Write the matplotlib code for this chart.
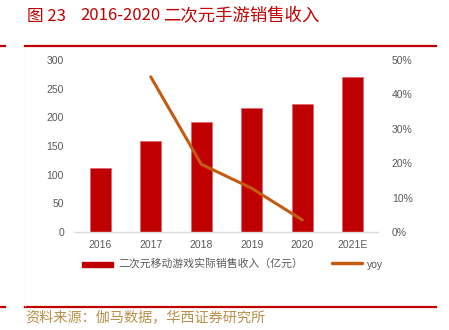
import matplotlib
matplotlib.use("Agg")
import matplotlib.pyplot as plt
from matplotlib.lines import Line2D
from matplotlib.patches import Rectangle
import numpy as np

plt.rcParams['font.family'] = ['Noto Sans CJK SC', 'DejaVu Sans']

years = ["2016", "2017", "2018", "2019", "2020", "2021E"]
revenue = [111, 159, 191, 217, 224, 271]
yoy_years = ["2017", "2018", "2019", "2020"]
yoy = [0.451, 0.197, 0.127, 0.035]

title_num = "图 23"
title_years = "2016-2020"
title_text = "二次元手游销售收入"
bar_label = "二次元移动游戏实际销售收入（亿元）"
line_label = "yoy"
source = "资料来源：伽马数据，华西证券研究所"

W, H = 449, 330
fig = plt.figure(figsize=(W / 100, H / 100), dpi=100)

red = "#C00000"
orange = "#C55A11"
gray = "#595959"
tickfont = ["Liberation Sans", "DejaVu Sans"]

ax = fig.add_axes([75 / W, 1 - 232 / H, (378 - 75) / W, (232 - 60) / H])
x = np.arange(len(years))
ax.bar(x, revenue, width=0.41, color=red, edgecolor="#E06070", linewidth=0.5, zorder=2)
ax.set_xlim(-0.5, len(years) - 0.5)
ax.set_ylim(0, 300)
ax.set_yticks(np.arange(0, 301, 50))
ax.set_xticks(x)
ax.set_xticklabels(years)
for s in ["top", "right", "left"]:
    ax.spines[s].set_visible(False)
ax.spines["bottom"].set_color("#D9D9D9")
ax.spines["bottom"].set_linewidth(1.0)
ax.tick_params(axis="both", length=0, labelsize=7.5, labelcolor=gray)
ax.tick_params(axis="x", pad=6)
ax.tick_params(axis="y", pad=8)
for lab in ax.get_xticklabels() + ax.get_yticklabels():
    lab.set_family(tickfont)

ax2 = ax.twinx()
xi = [years.index(y) for y in yoy_years]
ax2.plot(xi, yoy, color=orange, linewidth=2.2, solid_capstyle="round", zorder=3)
ax2.set_ylim(0, 0.5)
ax2.set_yticks(np.arange(0, 0.51, 0.1))
ax2.set_yticklabels([f"{int(round(v * 100))}%" for v in np.arange(0, 0.51, 0.1)])
for s in ["top", "right", "left", "bottom"]:
    ax2.spines[s].set_visible(False)
ax2.tick_params(axis="y", length=0, labelsize=7.5, labelcolor=gray, pad=10)
for lab in ax2.get_yticklabels():
    lab.set_family(tickfont)

# Title
ty = 1 - 16 / H
fig.text(27 / W, ty, title_num, color=red, fontsize=12, va="center", ha="left")
fig.text(80 / W, ty, title_years, color=red, fontsize=12, va="center", ha="left")
fig.text(163 / W, ty, title_text, color=red, fontsize=12.5, va="center", ha="left")

# Red rules and faint frame
fig.add_artist(Line2D([25 / W, 436 / W], [1 - 46 / H, 1 - 46 / H], color=red, linewidth=1.6))
fig.add_artist(Line2D([0, 5 / W], [1 - 46 / H, 1 - 46 / H], color=red, linewidth=1.6))
fig.add_artist(Line2D([25 / W, 436 / W], [1 - 307 / H, 1 - 307 / H], color=red, linewidth=1.6))
fig.add_artist(Line2D([0, 5 / W], [1 - 307 / H, 1 - 307 / H], color=red, linewidth=1.6))
fig.add_artist(Line2D([25 / W, 25 / W], [1 - 47 / H, 1 - 306 / H], color="#F7F7F7", linewidth=0.6))

# Legend (manual)
fig.add_artist(Rectangle((82 / W, 1 - 267 / H), 31 / W, 5 / H, color=red))
fig.text(118 / W, 1 - 264 / H, bar_label, color=gray, fontsize=7.8, va="center", ha="left")
fig.add_artist(Line2D([332 / W, 362 / W], [1 - 263 / H, 1 - 263 / H], color=orange,
                      linewidth=2.5, solid_capstyle="round"))
fig.text(367 / W, 1 - 265 / H, line_label, color=gray, fontsize=7.5, va="center", ha="left",
         family=tickfont)

# Source
fig.text(25 / W, 1 - 318 / H, source, color="#B8904A", fontsize=10.2, va="center", ha="left")

fig.savefig("out.png", dpi=100)
